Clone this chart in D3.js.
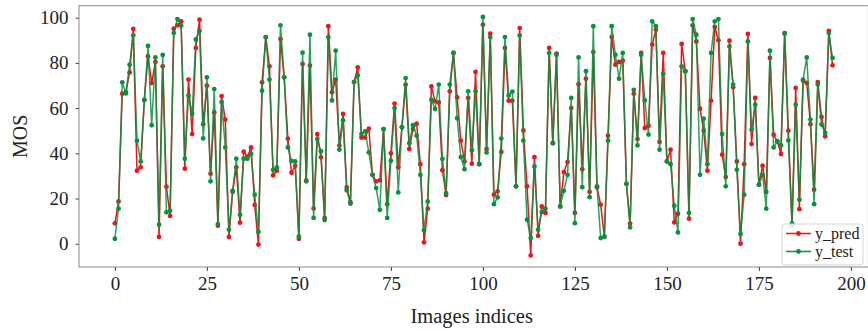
<!DOCTYPE html>
<html>
<head>
<meta charset="utf-8">
<script src="https://cdn.jsdelivr.net/npm/d3@7"></script>
<style>
  html, body { margin: 0; padding: 0; background: #fff; }
  svg { display: block; }
  text { font-family: "Liberation Serif", "Times New Roman", serif; fill: #222; }
</style>
</head>
<body>
<svg id="chart" width="868" height="330"></svg>
<script>
const yPred = [9,18.7,66.4,67.1,75.8,95,32.3,33.8,63.6,82.9,71.1,80.4,3,78.5,25.2,12.3,95.1,96.6,98.4,33.2,
72.6,48.5,86.6,99.1,52.9,69.9,31,58.1,8,65.3,54.9,3,23,33.8,9.3,40.7,38.5,42.6,17.1,-0.4,
71.4,91.4,78.5,30.2,32.3,90.6,73.6,46.5,31.4,34.5,2.2,79.5,28,78.8,15.6,48.5,38.2,11.4,96.2,67,
72.6,43.4,57.4,24.9,18.4,71.5,78,47,47,50.9,30.5,27.6,28,50.7,17.5,40,62,33.8,51.5,70.4,
41.9,50.7,53.1,35.2,0.6,15.5,69.6,63,62.5,32.5,21.5,67.4,84.4,64.7,45.6,36.4,64.5,35.4,76,35.2,
96.9,41.9,92.9,21.7,23.2,40.6,86.6,63.3,63.3,25.4,95.4,50.1,25.4,-5.2,38.3,3.5,16.5,13.6,86.6,44.5,
84.1,16.5,31.7,36.1,60,13.6,70.6,33,73,22.9,84.8,24.9,17.3,3,47.8,91.4,79.2,80.4,81,26.5,
8.9,66.4,46.3,84.4,51.2,52.2,88.1,94.7,45,84.4,36.4,41.6,9.4,13.3,88.4,76.3,11.1,96.6,89.5,59.7,
50,32.3,63.3,95.9,90,39.4,29.5,89.8,69.2,36.4,0,35.2,92.8,44.1,64.5,26.1,34.5,22.9,82.2,48.2,
45.3,39.7,93.2,50,8,68.9,15.3,72.1,71.1,52.9,23.9,71.5,56.1,47.5,94.2,78.9];

const yTest = [2.2,15.5,71.4,66.5,79.2,92.2,45.6,36.4,63.6,87.5,52.4,82.4,8.4,83.5,13.9,14.6,93.2,99.4,96.5,37.6,
65.5,57.5,90.4,94.2,46.6,73.6,27.6,68.4,8.7,62.7,42.6,6.2,23.4,37.6,12.8,37.6,37.6,39.7,21.7,5.2,
67.7,91.3,72.6,32.7,33.8,96.6,73.6,42.6,36.6,36.4,3.2,84.5,27.6,92.5,11.4,46.3,40.9,10.5,91.4,63.4,
85.4,41.6,54.6,23.6,17.7,71.5,74.5,48.5,49.7,40.4,30.5,24.6,15,50.7,11.4,36.7,60,22.7,51.5,73.3,
44.5,52.4,47.8,30.5,6,18.7,63.7,59.6,70.4,37.5,22.4,70.4,84.4,55.5,38.3,33,67.4,41.4,67.4,35.2,
100.3,40.4,91.4,17.5,20.5,46.5,91.4,65.6,67.3,25.4,92.2,45.6,10.6,2.5,34.2,6.2,14,15.5,84.4,44.5,
83.6,16.5,23.4,30.5,64.5,9.1,82.4,25,76.3,20.6,96.2,25.4,2.5,3.2,45.6,96.2,83.6,73,84.4,26.5,
7.2,68.1,43.5,83.6,63.4,48.3,98.4,96.2,41.6,75.2,36.4,35.2,16.8,5,78.5,76.3,13.6,99.4,92.5,30.5,
55.3,35.2,84.4,98.4,99.4,48.5,25.4,87.3,70.4,32.7,4.3,21.7,89.5,50.4,61.5,26.1,30.5,15.5,85.4,42.6,
45.3,43.5,92.9,45.7,9,61.5,19.5,72.6,82.4,54.9,17.5,70.4,52.7,49,93.2,82.2];

const xTicks = [0, 25, 50, 75, 100, 125, 150, 175, 200];
const yTicks = [0, 20, 40, 60, 80, 100];
const seriesNames = ["y_pred", "y_test"];
const seriesColors = ["#e8161d", "#08913e"];
const xLabel = "Images indices";
const yLabel = "MOS";

const indices = yPred.map((_, i) => i);

const svg = d3.select("#chart");
const pL = 79, pR = 868.4, pT = 5.7, pB = 267;

const x = d3.scaleLinear().domain([-9.75, 204.75]).range([pL, pR]);
const y = d3.scaleLinear().domain([-10.3, 105.3]).range([pB, pT]);

// frame
svg.append("rect")
  .attr("x", pL).attr("y", pT)
  .attr("width", pR - pL).attr("height", pB - pT)
  .attr("fill", "#fff").attr("stroke", "#8a8a8a").attr("stroke-width", 1);

// axes
const xAxis = d3.axisBottom(x).tickValues(xTicks).tickSize(4).tickPadding(6).tickFormat(d3.format("d"));
const gx = svg.append("g").attr("transform", `translate(0,${pB})`).call(xAxis);
gx.select(".domain").remove();
gx.selectAll("line").attr("stroke", "#444");
gx.selectAll("text").style("font-size", "19px").style("font-family", "Liberation Serif, serif").attr("fill", "#222");

const yAxis = d3.axisLeft(y).tickValues(yTicks).tickSize(3.5).tickPadding(7).tickFormat(d3.format("d"));
const gy = svg.append("g").attr("transform", `translate(${pL},0)`).call(yAxis);
gy.select(".domain").remove();
gy.selectAll("line").attr("stroke", "#444");
gy.selectAll("text").style("font-size", "19px").style("font-family", "Liberation Serif, serif").attr("fill", "#222");

// labels
svg.append("text")
  .attr("x", (pL + pR) / 2 - 2).attr("y", 323)
  .attr("text-anchor", "middle").style("font-size", "20.5px")
  .text(xLabel);
svg.append("text")
  .attr("transform", `translate(27,${(pT + pB) / 2}) rotate(-90)`)
  .attr("text-anchor", "middle").style("font-size", "20px")
  .text(yLabel);

// series
const plot = svg.append("g");
const series = [yPred, yTest];
series.forEach((vals, k) => {
  const line = d3.line().x((d, i) => x(indices[i])).y(d => y(d));
  plot.append("path")
    .datum(vals)
    .attr("d", line)
    .attr("fill", "none")
    .attr("stroke", seriesColors[k])
    .attr("stroke-width", 1.5)
    .attr("stroke-opacity", k === 1 ? 0.85 : 1)
    .attr("stroke-linejoin", "round");
  plot.selectAll(null)
    .data(vals)
    .enter().append("circle")
    .attr("cx", (d, i) => x(indices[i]))
    .attr("cy", d => y(d))
    .attr("r", 2.4)
    .attr("fill", seriesColors[k]);
});

// legend
const lg = svg.append("g");
lg.append("rect")
  .attr("x", 782).attr("y", 224).attr("width", 81).attr("height", 41)
  .attr("rx", 3).attr("fill", "#fff").attr("fill-opacity", 0.85)
  .attr("stroke", "#d6d6d6").attr("stroke-width", 1);
seriesNames.forEach((name, k) => {
  const cy = 233.5 + k * 18;
  lg.append("line").attr("x1", 786).attr("x2", 811).attr("y1", cy).attr("y2", cy)
    .attr("stroke", seriesColors[k]).attr("stroke-width", 1.5);
  lg.append("circle").attr("cx", 798.5).attr("cy", cy).attr("r", 2.4).attr("fill", seriesColors[k]);
  lg.append("text").attr("x", 815).attr("y", cy + 5).style("font-size", "16px").text(name);
});
</script>
</body>
</html>
